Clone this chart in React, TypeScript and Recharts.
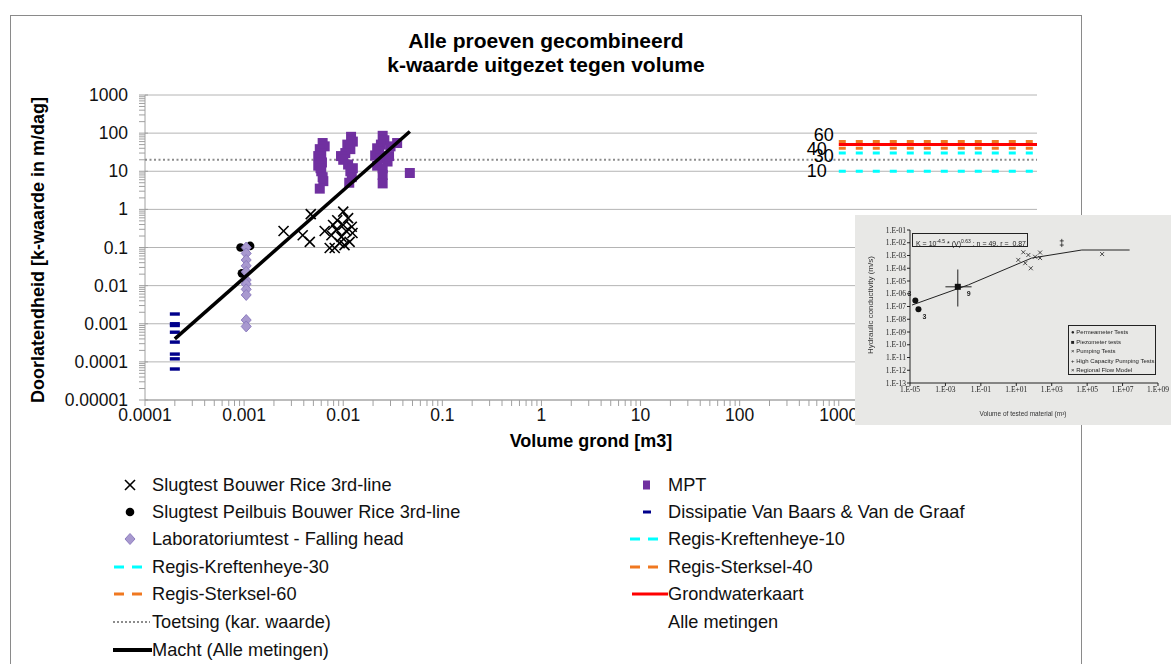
import React from 'react';
import { ScatterChart, Scatter, XAxis, YAxis, CartesianGrid } from 'recharts';

const FONT = '"Liberation Sans", Arial, sans-serif';
const SERIF = '"Liberation Serif", "DejaVu Serif", serif';

// assen (log): volume in m3, k-waarde in m/dag
const X_MAJOR = [0.0001, 0.001, 0.01, 0.1, 1, 10, 100, 1000, 10000, 100000];
// 10000 en 100000 vallen onder de inzet, dus geen tekst
const X_LABELS = ['0.0001', '0.001', '0.01', '0.1', '1', '10', '100', '1000', '', ''];
const Y_MAJOR = [0.00001, 0.0001, 0.001, 0.01, 0.1, 1, 10, 100, 1000];
const Y_LABELS = ['0.00001', '0.0001', '0.001', '0.01', '0.1', '1', '10', '100', '1000'];

// Slugtest Bouwer Rice 3rd-line
const BR_VOL = [0.0025, 0.0039, 0.0046, 0.0047, 0.0065, 0.0073, 0.0076, 0.0079, 0.0082, 0.0085, 0.0087, 0.0092, 0.0096, 0.01, 0.01, 0.0103, 0.0107, 0.0112, 0.0116, 0.0122, 0.0124];
const BR_K = [0.27, 0.21, 0.14, 0.75, 0.27, 0.097, 0.21, 0.39, 0.097, 0.29, 0.52, 0.13, 0.19, 0.87, 0.39, 0.115, 0.27, 0.59, 0.14, 0.35, 0.24];

// Slugtest Peilbuis Bouwer Rice 3rd-line
const PB_VOL = [0.00092, 0.00115, 0.00095];
const PB_K = [0.1, 0.11, 0.021];

// Laboratoriumtest - Falling head
const LAB_VOL = [0.00105, 0.00105, 0.00105, 0.00105, 0.00105, 0.00105, 0.00105, 0.00105, 0.00105, 0.00105, 0.00105];
const LAB_K = [0.1, 0.07, 0.047, 0.033, 0.023, 0.014, 0.011, 0.008, 0.0057, 0.00125, 0.00085];

// MPT
const MPT_VOL = [
  0.0062, 0.0065, 0.0058, 0.006, 0.0056, 0.0058, 0.0061, 0.0056, 0.0059, 0.006, 0.0062, 0.0063, 0.0058,
  0.012, 0.0125, 0.011, 0.0118, 0.0105, 0.0095, 0.01, 0.0112, 0.0125, 0.0118, 0.0122, 0.0115,
  0.025, 0.026, 0.024, 0.022, 0.023, 0.021, 0.024, 0.028, 0.022, 0.025, 0.025, 0.025, 0.03, 0.029,
  0.035, 0.047,
];
const MPT_K = [
  55, 45, 38, 30, 25, 20, 17, 14, 12, 10, 7, 5.5, 3.5,
  80, 60, 50, 38, 30, 25, 20, 15, 12, 10, 7, 5,
  85, 65, 50, 40, 32, 26, 22, 18, 14, 12, 8, 4.8, 45, 25,
  55, 9,
];

// Dissipatie Van Baars & Van de Graaf
const DIS_VOL = [0.0002, 0.0002, 0.0002, 0.0002, 0.0002, 0.0002, 0.0002, 0.0002];
const DIS_K = [0.0018, 0.001, 0.0009, 0.0006, 0.00033, 0.00016, 0.00012, 0.000065];

// horizontale referentielijnen
const REGIS_VOL = [1000, 100000];
const KREFT_10 = [10, 10];
const KREFT_30 = [30, 30];
const STERK_40 = [40, 40];
const STERK_60 = [60, 60];
const GWK = [50, 50];
const TOETS_VOL = [0.0001, 100000];
const TOETS_K = [20, 20];

// Macht (Alle metingen)
const MACHT_VOL = [0.0002, 0.047];
const MACHT_K = [0.0004, 110];

// inzet (gescand figuur)
const IN_X_TICKS = [1e-5, 1e-3, 1e-1, 1e1, 1e3, 1e5, 1e7, 1e9];
const IN_X_LABELS = ['1.E-05', '1.E-03', '1.E-01', '1.E+01', '1.E+03', '1.E+05', '1.E+07', '1.E+09'];
const IN_Y_TICKS = [1e-13, 1e-12, 1e-11, 1e-10, 1e-9, 1e-8, 1e-7, 1e-6, 1e-5, 1e-4, 1e-3, 1e-2, 1e-1];
const IN_Y_LABELS = ['1.E-13', '1.E-12', '1.E-11', '1.E-10', '1.E-09', '1.E-08', '1.E-07', '1.E-06', '1.E-05', '1.E-04', '1.E-03', '1.E-02', '1.E-01'];
const IN_TREND_V = [1.3e-5, 0.02, 74, 5e4, 2.5e7];
const IN_TREND_K = [1.3e-7, 5e-6, 6.3e-4, 2.7e-3, 2.7e-3];
const IN_PERM_V = [2e-5, 3e-5];
const IN_PERM_K = [3e-7, 6e-8];
const IN_PIEZ_V = [5e-3];
const IN_PIEZ_K = [3.5e-6];
const IN_PIEZ_H_V = [1e-3, 3e-2];
const IN_PIEZ_H_K = [3.5e-6, 3.5e-6];
const IN_PIEZ_V_V = [5e-3, 5e-3];
const IN_PIEZ_V_K = [1e-7, 8e-5];
const IN_PUMP_V = [25, 13, 48, 115, 220, 32, 66, 220];
const IN_PUMP_K = [1.8e-3, 4.5e-4, 1.1e-3, 8e-4, 1.7e-3, 2.5e-4, 1e-4, 6.3e-4];
const IN_HC_V = [3700, 3700];
const IN_HC_K = [1.4e-2, 6.6e-3];
const IN_REG_V = [7e5];
const IN_REG_K = [1.3e-3];

const pts = (xs: number[], ys: number[]) => xs.map((x, i) => ({ x, y: ys[i] }));

// tussenticks 2..9 per decade
const withMinor = (majors: number[]) => {
  const out: number[] = [];
  majors.forEach((m, i) => {
    out.push(m);
    if (i < majors.length - 1) for (let k = 2; k < 10; k++) out.push(+(m * k).toPrecision(6));
  });
  return out;
};
const X_TICKS = withMinor(X_MAJOR);
const Y_TICKS = withMinor(Y_MAJOR);

const AXIS = '#a0a0a0';

const XTick = (p: any) => {
  const i = X_MAJOR.indexOf(p.payload.value);
  return (
    <g>
      <line x1={p.x} x2={p.x} y1={p.y} y2={p.y + 6} stroke={AXIS} />
      {i >= 0 && X_LABELS[i] && (
        <text x={p.x} y={p.y + 15} textAnchor="middle" dominantBaseline="central" fontSize={17.5} fontFamily={FONT} fill="#111">
          {X_LABELS[i]}
        </text>
      )}
    </g>
  );
};

const YTick = (p: any) => {
  const i = Y_MAJOR.indexOf(p.payload.value);
  return (
    <g>
      <line x1={p.x - 6} x2={p.x + (i >= 0 ? 3 : 0)} y1={p.y} y2={p.y} stroke={AXIS} />
      {i >= 0 && (
        <text x={p.x - 17} y={p.y} textAnchor="end" dominantBaseline="central" fontSize={17.5} fontFamily={FONT} fill="#111">
          {Y_LABELS[i]}
        </text>
      )}
    </g>
  );
};

const Empty = () => <g />;

const CrossShape = (p: any) => (
  <g stroke="#000" strokeWidth={1.6}>
    <line x1={p.cx - 5} y1={p.cy - 5} x2={p.cx + 5} y2={p.cy + 5} />
    <line x1={p.cx - 5} y1={p.cy + 5} x2={p.cx + 5} y2={p.cy - 5} />
  </g>
);
const DotShape = (p: any) => <circle cx={p.cx} cy={p.cy} r={4.3} fill="#000" />;
const DiamondShape = (p: any) => (
  <path d={`M${p.cx},${p.cy - 5.5}L${p.cx + 5},${p.cy}L${p.cx},${p.cy + 5.5}L${p.cx - 5},${p.cy}Z`} fill="#a899cf" stroke="#8d7dbf" strokeWidth={1} />
);
const SquareShape = (p: any) => <rect x={p.cx - 5} y={p.cy - 5} width={10} height={10} fill="#7030a0" />;
const DashShape = (p: any) => <rect x={p.cx - 5} y={p.cy - 1.7} width={10} height={3.4} fill="#00008b" />;

const valueLabel = (txt: string, dx: number, dy: number) => (p: any) =>
  p.index === 0 ? (
    <text x={p.cx - dx} y={p.cy + dy} textAnchor="end" dominantBaseline="central" fontSize={18} fontFamily={FONT} fill="#000">
      {txt}
    </text>
  ) : (
    <g />
  );

const CYAN = '#00ffff';
const ORANGE = '#f07820';

function Inset() {
  const tickStyle = { fontSize: 7.5, fontFamily: SERIF, fill: '#222' };
  const inX = (p: any) => (
    <g stroke="#222" strokeWidth={0.8}>
      <line x1={p.cx - 2} y1={p.cy - 2} x2={p.cx + 2} y2={p.cy + 2} />
      <line x1={p.cx - 2} y1={p.cy + 2} x2={p.cx + 2} y2={p.cy - 2} />
    </g>
  );
  const inPlus = (p: any) => (
    <g stroke="#222" strokeWidth={0.8}>
      <line x1={p.cx - 2} y1={p.cy} x2={p.cx + 2} y2={p.cy} />
      <line x1={p.cx} y1={p.cy - 2} x2={p.cx} y2={p.cy + 2} />
    </g>
  );
  const permLbl = (p: any) => (
    <g>
      <circle cx={p.cx} cy={p.cy} r={3} fill="#111" />
      <text x={p.cx + (p.index === 0 ? -6 : 6)} y={p.cy + (p.index === 0 ? -7 : 7)} textAnchor="middle" dominantBaseline="central" fontSize={7} fontWeight="bold" fontFamily={FONT} fill="#222">3</text>
    </g>
  );
  const piezLbl = (p: any) => (
    <g>
      <rect x={p.cx - 3} y={p.cy - 3} width={6} height={6} fill="#111" />
      <text x={p.cx + 11} y={p.cy + 7} textAnchor="middle" dominantBaseline="central" fontSize={7} fontWeight="bold" fontFamily={FONT} fill="#222">9</text>
    </g>
  );
  return (
    <div style={{ position: 'absolute', left: 855, top: 215, width: 316, height: 210, background: '#e8e8e6', filter: 'blur(0.35px)' }}>
      <ScatterChart width={316} height={210} margin={{ top: 15, right: 13, bottom: 28, left: 15 }}>
        <XAxis type="number" dataKey="x" scale="log" domain={[1e-5, 1e9]} ticks={IN_X_TICKS} interval={0} height={14}
          tickFormatter={(v: number) => IN_X_LABELS[IN_X_TICKS.indexOf(v)]} tick={tickStyle} stroke="#222" tickSize={3} tickMargin={1} />
        <YAxis type="number" dataKey="y" scale="log" domain={[1e-13, 1e-1]} ticks={IN_Y_TICKS} interval={0} width={40}
          tickFormatter={(v: number) => IN_Y_LABELS[IN_Y_TICKS.indexOf(v)]} tick={tickStyle} stroke="#222" tickSize={3} tickMargin={1} />
        <Scatter data={pts(IN_TREND_V, IN_TREND_K)} line={{ stroke: '#222', strokeWidth: 1 }} shape={Empty} isAnimationActive={false} />
        <Scatter data={pts(IN_PIEZ_H_V, IN_PIEZ_H_K)} line={{ stroke: '#222', strokeWidth: 1 }} shape={Empty} isAnimationActive={false} />
        <Scatter data={pts(IN_PIEZ_V_V, IN_PIEZ_V_K)} line={{ stroke: '#222', strokeWidth: 1 }} shape={Empty} isAnimationActive={false} />
        <Scatter data={pts(IN_PERM_V, IN_PERM_K)} shape={permLbl} isAnimationActive={false} />
        <Scatter data={pts(IN_PIEZ_V, IN_PIEZ_K)} shape={piezLbl} isAnimationActive={false} />
        <Scatter data={pts(IN_PUMP_V, IN_PUMP_K)} shape={inX} isAnimationActive={false} />
        <Scatter data={pts(IN_HC_V, IN_HC_K)} shape={inPlus} isAnimationActive={false} />
        <Scatter data={pts(IN_REG_V, IN_REG_K)} shape={inX} isAnimationActive={false} />
      </ScatterChart>
      <div style={{ position: 'absolute', left: 57, top: 18, width: 116, height: 14, border: '1px solid #222', fontSize: 7, fontFamily: FONT, color: '#222', lineHeight: '14px', paddingLeft: 3, boxSizing: 'border-box', whiteSpace: 'nowrap' }}>
        K = 10<sup style={{ fontSize: 5 }}>-4.5</sup> * (V)<sup style={{ fontSize: 5 }}>0.63</sup> ; n = 49, r = &nbsp;0.87
      </div>
      <div style={{ position: 'absolute', left: 213, top: 110, width: 88, height: 50, border: '1px solid #222', fontSize: 6, fontFamily: FONT, color: '#222', lineHeight: '9.5px', padding: '2px 2px', boxSizing: 'border-box', whiteSpace: 'nowrap' }}>
        <div>● Permeameter Tests</div>
        <div>■ Piezometer tests</div>
        <div>× Pumping Tests</div>
        <div>+ High Capacity Pumping Tests</div>
        <div>× Regional Flow Model</div>
      </div>
      <div style={{ position: 'absolute', left: 15, top: 90, transform: 'translate(-50%,-50%) rotate(-90deg)', fontSize: 8, fontFamily: FONT, color: '#333', whiteSpace: 'nowrap' }}>
        Hydraulic conductivity (m/s)
      </div>
      <div style={{ position: 'absolute', left: 168, top: 198, transform: 'translate(-50%,-50%)', fontSize: 6.5, fontFamily: FONT, color: '#333', whiteSpace: 'nowrap' }}>
        Volume of tested material (m³)
      </div>
    </div>
  );
}

type LegendItem = { label: string; icon: React.ReactNode };

const lineIcon = (color: string, w: number, dash?: string, x1 = 0, x2 = 30) => (
  <line x1={x1} x2={x2} y1={10} y2={10} stroke={color} strokeWidth={w} strokeDasharray={dash} />
);

const LEFT_ITEMS: LegendItem[] = [
  { label: 'Slugtest Bouwer Rice 3rd-line', icon: <CrossShape cx={17} cy={10} /> },
  { label: 'Slugtest Peilbuis Bouwer Rice 3rd-line', icon: <DotShape cx={17} cy={10} /> },
  { label: 'Laboratoriumtest - Falling head', icon: <DiamondShape cx={17} cy={10} /> },
  { label: 'Regis-Kreftenheye-30', icon: lineIcon(CYAN, 3, '10 8', 1, 30) },
  { label: 'Regis-Sterksel-60', icon: lineIcon(ORANGE, 3, '10 8', 1, 30) },
  { label: 'Toetsing (kar. waarde)', icon: lineIcon('#8c8c8c', 2, '2 2', 0, 37) },
  { label: 'Macht (Alle metingen)', icon: lineIcon('#000', 4, undefined, 0, 39) },
];
const RIGHT_ITEMS: LegendItem[] = [
  { label: 'MPT', icon: <rect x={13} y={5.5} width={7} height={9} fill="#7030a0" /> },
  { label: 'Dissipatie Van Baars & Van de Graaf', icon: <rect x={13} y={8.5} width={8} height={3} fill="#00008b" /> },
  { label: 'Regis-Kreftenheye-10', icon: lineIcon(CYAN, 3, '10 8', 0, 30) },
  { label: 'Regis-Sterksel-40', icon: lineIcon(ORANGE, 3, '10 8', 0, 30) },
  { label: 'Grondwaterkaart', icon: lineIcon('#ff0000', 3, undefined, 2, 38) },
  { label: 'Alle metingen', icon: null },
];
const ROW_Y = [485, 512, 539, 567, 594, 622, 650];

function LegendBlock() {
  const render = (items: LegendItem[], iconLeft: number, textLeft: number) =>
    items.map((it, i) => (
      <React.Fragment key={it.label}>
        {it.icon && (
          <svg style={{ position: 'absolute', left: iconLeft, top: ROW_Y[i] - 10 }} width={40} height={20}>
            {it.icon}
          </svg>
        )}
        <div style={{ position: 'absolute', left: textLeft, top: ROW_Y[i] - 11, fontSize: 18.2, lineHeight: '22px', fontFamily: FONT, color: '#111', whiteSpace: 'nowrap' }}>
          {it.label}
        </div>
      </React.Fragment>
    ));
  return (
    <>
      {render(LEFT_ITEMS, 113, 152)}
      {render(RIGHT_ITEMS, 630, 668)}
    </>
  );
}

export default function App() {
  return (
    <div style={{ position: 'absolute', left: 0, top: 0, width: 1171, height: 664, overflow: 'hidden', background: '#fff' }}>
      <div style={{ position: 'absolute', left: 10, top: 15, width: 1072, height: 700, border: '1px solid #8a8a8a', boxSizing: 'border-box' }} />
      <div style={{ position: 'absolute', left: 10, top: 29, width: 1072, textAlign: 'center', fontFamily: FONT, fontWeight: 'bold', fontSize: 21, lineHeight: '24px', color: '#000' }}>
        <div>Alle proeven gecombineerd</div>
        <div>k-waarde uitgezet tegen volume</div>
      </div>
      <div style={{ position: 'absolute', left: 0, top: 0 }}>
        <ScatterChart width={1171} height={470} margin={{ top: 95, right: 134, bottom: 20, left: 65 }}>
          <CartesianGrid horizontalValues={Y_MAJOR} vertical={false} stroke="#b4b4b4" />
          <XAxis type="number" dataKey="x" scale="log" domain={[0.0001, 100000]} ticks={X_TICKS} interval={0}
            tick={<XTick />} tickSize={0} tickMargin={0} height={50} stroke={AXIS} allowDataOverflow />
          <YAxis type="number" dataKey="y" scale="log" domain={[0.00001, 1000]} ticks={Y_TICKS} interval={0}
            tick={<YTick />} tickSize={0} tickMargin={0} width={80} stroke={AXIS} allowDataOverflow />
          <Scatter name="Toetsing (kar. waarde)" data={pts(TOETS_VOL, TOETS_K)} line={{ stroke: '#8c8c8c', strokeWidth: 2, strokeDasharray: '2 2.5' }} shape={Empty} isAnimationActive={false} />
          <Scatter name="Dissipatie Van Baars & Van de Graaf" data={pts(DIS_VOL, DIS_K)} shape={DashShape} isAnimationActive={false} />
          <Scatter name="Slugtest Bouwer Rice 3rd-line" data={pts(BR_VOL, BR_K)} shape={CrossShape} isAnimationActive={false} />
          <Scatter name="Slugtest Peilbuis Bouwer Rice 3rd-line" data={pts(PB_VOL, PB_K)} shape={DotShape} isAnimationActive={false} />
          <Scatter name="Laboratoriumtest - Falling head" data={pts(LAB_VOL, LAB_K)} shape={DiamondShape} isAnimationActive={false} />
          <Scatter name="MPT" data={pts(MPT_VOL, MPT_K)} shape={SquareShape} isAnimationActive={false} />
          <Scatter name="Regis-Kreftenheye-10" data={pts(REGIS_VOL, KREFT_10)} line={{ stroke: CYAN, strokeWidth: 3, strokeDasharray: '7 10' }} shape={valueLabel('10', 12, 0)} isAnimationActive={false} />
          <Scatter name="Regis-Kreftenheye-30" data={pts(REGIS_VOL, KREFT_30)} line={{ stroke: CYAN, strokeWidth: 3, strokeDasharray: '7 10' }} shape={valueLabel('30', 5, 3)} isAnimationActive={false} />
          <Scatter name="Regis-Sterksel-40" data={pts(REGIS_VOL, STERK_40)} line={{ stroke: ORANGE, strokeWidth: 3, strokeDasharray: '7 10' }} shape={valueLabel('40', 12, 1)} isAnimationActive={false} />
          <Scatter name="Regis-Sterksel-60" data={pts(REGIS_VOL, STERK_60)} line={{ stroke: ORANGE, strokeWidth: 3, strokeDasharray: '7 10' }} shape={valueLabel('60', 5, -6.5)} isAnimationActive={false} />
          <Scatter name="Grondwaterkaart" data={pts(REGIS_VOL, GWK)} line={{ stroke: '#ff0000', strokeWidth: 3 }} shape={Empty} isAnimationActive={false} />
          <Scatter name="Macht (Alle metingen)" data={pts(MACHT_VOL, MACHT_K)} line={{ stroke: '#000', strokeWidth: 3.5 }} shape={Empty} isAnimationActive={false} />
        </ScatterChart>
      </div>
      <div style={{ position: 'absolute', left: 38, top: 250, transform: 'translate(-50%,-50%) rotate(-90deg)', fontFamily: FONT, fontWeight: 'bold', fontSize: 18, color: '#000', whiteSpace: 'nowrap' }}>
        Doorlatendheid [k-waarde in m/dag]
      </div>
      <div style={{ position: 'absolute', left: 591, top: 441, transform: 'translate(-50%,-50%)', fontFamily: FONT, fontWeight: 'bold', fontSize: 18, color: '#000', whiteSpace: 'nowrap' }}>
        Volume grond [m3]
      </div>
      <Inset />
      <LegendBlock />
    </div>
  );
}
